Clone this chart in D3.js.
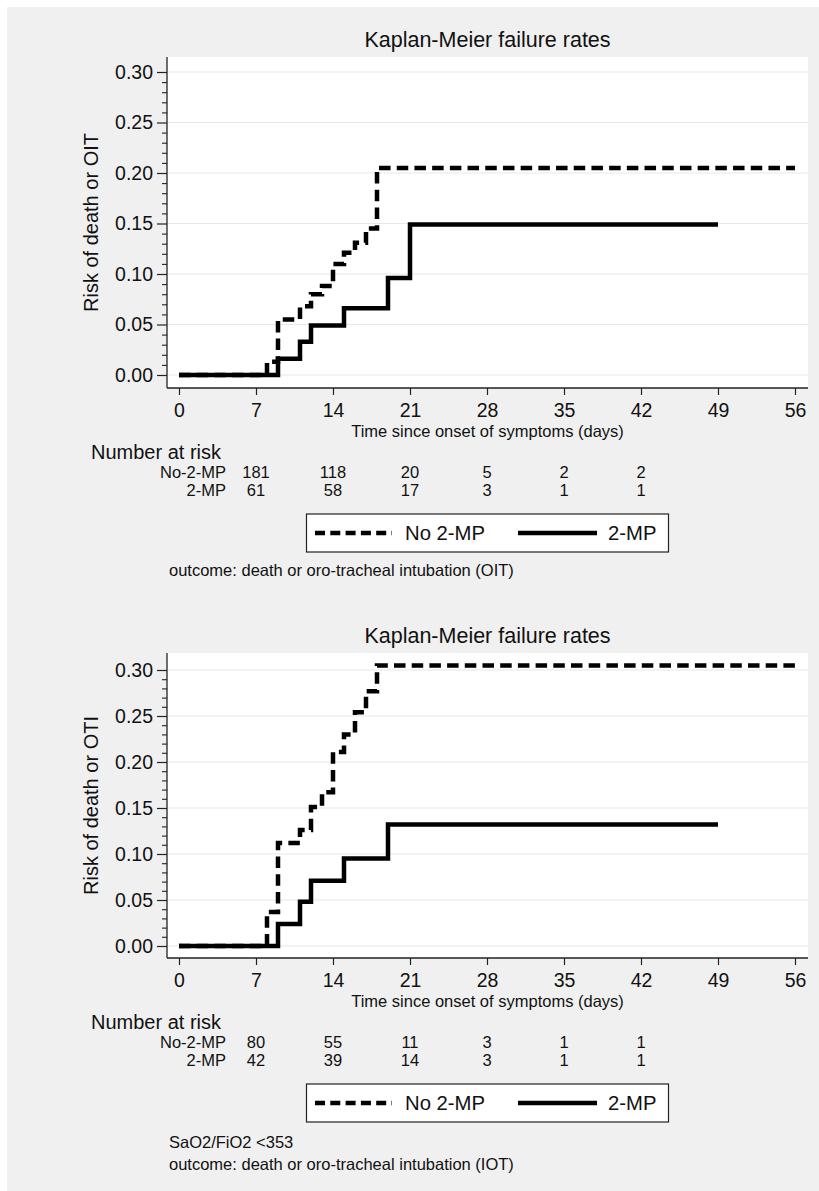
<!DOCTYPE html>
<html>
<head>
<meta charset="utf-8">
<script src="https://cdn.jsdelivr.net/npm/d3@7"></script>
<style>
  html, body { margin: 0; padding: 0; background: #ffffff; }
  svg { display: block; font-family: "Liberation Sans", Arial, sans-serif; }
</style>
</head>
<body>
<svg id="chart" width="819" height="1191"></svg>
<script>
// ---------------- DATA ----------------
const xTicks = [0, 7, 14, 21, 28, 35, 42, 49, 56];
const yTicks = [0, 0.05, 0.10, 0.15, 0.20, 0.25, 0.30];
const seriesNames = ["No 2-MP", "2-MP"];
const riskRowLabels = ["No-2-MP", "2-MP"];
const riskTimes = [7, 14, 21, 28, 35, 42];

// Panel 1
const topTimesNo = [0, 8, 9, 11, 12, 13, 14, 15, 16, 17, 18, 56];
const topRiskNo  = [0, 0.013, 0.055, 0.068, 0.080, 0.088, 0.110, 0.121, 0.131, 0.145, 0.205, 0.205];
const topTimesYes = [0, 9, 11, 12, 15, 19, 21, 49];
const topRiskYes  = [0, 0.016, 0.033, 0.049, 0.066, 0.096, 0.149, 0.149];
const topAtRiskNo  = [181, 118, 20, 5, 2, 2];
const topAtRiskYes = [61, 58, 17, 3, 1, 1];

// Panel 2
const botTimesNo = [0, 8, 9, 11, 12, 13, 14, 15, 16, 17, 18, 56];
const botRiskNo  = [0, 0.037, 0.112, 0.126, 0.151, 0.167, 0.211, 0.230, 0.254, 0.277, 0.305, 0.305];
const botTimesYes = [0, 9, 11, 12, 15, 19, 49];
const botRiskYes  = [0, 0.024, 0.048, 0.071, 0.095, 0.132, 0.132];
const botAtRiskNo  = [80, 55, 11, 3, 1, 1];
const botAtRiskYes = [42, 39, 14, 3, 1, 1];

const titleText = "Kaplan-Meier failure rates";
const xTitleText = "Time since onset of symptoms (days)";
const riskHeader = "Number at risk";

// ---------------- DRAW ----------------
const svg = d3.select("#chart");
svg.append("rect").attr("x", 7).attr("y", 7).attr("width", 812).attr("height", 1184).attr("fill", "#f0f0f0");

const AX = "#222";
const FONT = "'Liberation Sans', Arial, sans-serif";

function panel(cfg) {
  const g = svg.append("g");
  const x = d3.scaleLinear().domain([0, 56]).range([179, 795]);
  const y = d3.scaleLinear().domain([0, 0.30]).range([cfg.y0, cfg.y30]);
  const left = 167, right = 808, pt = cfg.plotTop, pb = cfg.plotBottom;

  // plot region
  g.append("rect").attr("x", left).attr("y", pt).attr("width", right - left).attr("height", pb - pt).attr("fill", "#ffffff");

  // gridlines
  g.selectAll(".grid").data(yTicks).join("line")
    .attr("x1", left + 1).attr("x2", right)
    .attr("y1", d => y(d)).attr("y2", d => y(d))
    .attr("stroke", "#e8e8e8").attr("stroke-width", 1.2);

  // title
  g.append("text").attr("x", (left + right) / 2).attr("y", cfg.titleY)
    .attr("text-anchor", "middle").attr("font-size", 21.5).attr("fill", "#111").text(titleText);

  // y axis
  const yAxis = d3.axisLeft(y).tickValues(yTicks).tickFormat(d3.format(".2f")).tickSize(10).tickPadding(4);
  const ya = g.append("g").attr("transform", `translate(${left},0)`).call(yAxis);
  ya.select(".domain").remove();
  ya.selectAll("line").attr("stroke", AX).attr("stroke-width", 1.2);
  ya.selectAll("text").attr("font-size", 19.5).attr("font-family", FONT).attr("fill", "#111");
  const minor = d3.range(0, 31).map(i => i / 100).filter(v => Math.round(v * 100) % 5 !== 0);
  const ym = d3.axisLeft(y).tickValues(minor).tickSize(5).tickFormat("");
  const ymg = g.append("g").attr("transform", `translate(${left},0)`).call(ym);
  ymg.select(".domain").remove();
  ymg.selectAll("line").attr("stroke", AX).attr("stroke-width", 1.1);
  g.append("line").attr("x1", left).attr("x2", left).attr("y1", pt).attr("y2", pb).attr("stroke", AX).attr("stroke-width", 1.3);

  // y label
  g.append("text").attr("transform", `translate(98,${(pt + pb) / 2}) rotate(-90)`)
    .attr("text-anchor", "middle").attr("font-size", 20).attr("fill", "#111").text(cfg.yLabel);

  // x axis
  const xAxis = d3.axisBottom(x).tickValues(xTicks).tickSize(7).tickPadding(8);
  const xa = g.append("g").attr("transform", `translate(0,${pb})`).call(xAxis);
  xa.select(".domain").remove();
  xa.selectAll("line").attr("stroke", AX).attr("stroke-width", 1.2);
  xa.selectAll("text").attr("font-size", 19.5).attr("font-family", FONT).attr("fill", "#111");
  g.append("line").attr("x1", left).attr("x2", right).attr("y1", pb).attr("y2", pb).attr("stroke", AX).attr("stroke-width", 1.3);

  g.append("text").attr("x", (left + right) / 2).attr("y", pb + 49)
    .attr("text-anchor", "middle").attr("font-size", 16.5).attr("fill", "#111").text(xTitleText);

  // curves
  const line = d3.line().x(d => x(d[0])).y(d => y(d[1])).curve(d3.curveStepAfter);
  const yesData = cfg.timesYes.map((t, i) => [t, cfg.riskYes[i]]);
  const noData = cfg.timesNo.map((t, i) => [t, cfg.riskNo[i]]);
  g.append("path").datum(yesData).attr("d", line).attr("fill", "none")
    .attr("stroke", "#000").attr("stroke-width", 4.5);
  g.append("path").datum(noData).attr("d", line).attr("fill", "none")
    .attr("stroke", "#000").attr("stroke-width", 4.5).attr("stroke-dasharray", "11.5,6.2");

  // number at risk
  g.append("text").attr("x", 91).attr("y", pb + 71).attr("font-size", 20).attr("fill", "#111").text(riskHeader);
  const rows = [cfg.atRiskNo, cfg.atRiskYes];
  rows.forEach((vals, r) => {
    const yy = pb + 90 + r * 18;
    g.append("text").attr("x", 226).attr("y", yy).attr("text-anchor", "end")
      .attr("font-size", 16.5).attr("fill", "#111").text(riskRowLabels[r]);
    g.selectAll(null).data(vals).join("text")
      .attr("x", (d, i) => x(riskTimes[i])).attr("y", yy).attr("text-anchor", "middle")
      .attr("font-size", 16.5).attr("fill", "#111").text(d => d);
  });

  // legend
  const ly = pb + 126;
  g.append("rect").attr("x", 306.5).attr("y", ly).attr("width", 362).attr("height", 38)
    .attr("fill", "#fff").attr("stroke", "#222").attr("stroke-width", 1.2);
  const lc = ly + 19;
  g.append("line").attr("x1", 315).attr("x2", 392).attr("y1", lc).attr("y2", lc)
    .attr("stroke", "#000").attr("stroke-width", 4.5).attr("stroke-dasharray", "10,5.3");
  g.append("text").attr("x", 405).attr("y", lc + 7).attr("font-size", 20.3).attr("fill", "#111").text(seriesNames[0]);
  g.append("line").attr("x1", 518).attr("x2", 597).attr("y1", lc).attr("y2", lc)
    .attr("stroke", "#000").attr("stroke-width", 4.5);
  g.append("text").attr("x", 608).attr("y", lc + 7).attr("font-size", 20.3).attr("fill", "#111").text(seriesNames[1]);

  // notes
  cfg.notes.forEach(n => {
    g.append("text").attr("x", 169).attr("y", n.y).attr("font-size", 16.5).attr("fill", "#111").text(n.text);
  });
}

panel({
  plotTop: 57, plotBottom: 388, y0: 375, y30: 72, titleY: 47,
  yLabel: "Risk of death or OIT",
  timesNo: topTimesNo, riskNo: topRiskNo, timesYes: topTimesYes, riskYes: topRiskYes,
  atRiskNo: topAtRiskNo, atRiskYes: topAtRiskYes,
  notes: [{ text: "outcome: death or oro-tracheal intubation (OIT)", y: 576 }]
});

panel({
  plotTop: 653, plotBottom: 958, y0: 946, y30: 670, titleY: 643,
  yLabel: "Risk of death or OTI",
  timesNo: botTimesNo, riskNo: botRiskNo, timesYes: botTimesYes, riskYes: botRiskYes,
  atRiskNo: botAtRiskNo, atRiskYes: botAtRiskYes,
  notes: [{ text: "SaO2/FiO2 <353", y: 1148 }, { text: "outcome: death or oro-tracheal intubation (IOT)", y: 1170 }]
});
</script>
</body>
</html>
